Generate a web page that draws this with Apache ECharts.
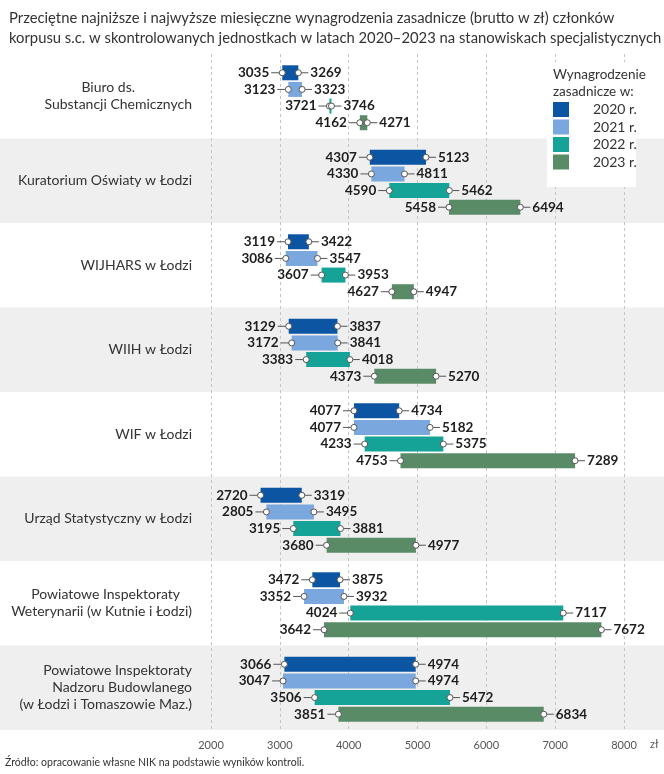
<!DOCTYPE html>
<html>
<head>
<meta charset="utf-8">
<script src="https://cdn.jsdelivr.net/npm/echarts@6/dist/echarts.min.js"></script>
<style>html,body{margin:0;padding:0;background:#fff}#c{width:664px;height:774px}</style>
</head>
<body>
<div id="c"></div>
<script>
const categories = [
  'Biuro ds.\nSubstancji Chemicznych',
  'Kuratorium Oświaty w Łodzi',
  'WIJHARS w Łodzi',
  'WIIH w Łodzi',
  'WIF w Łodzi',
  'Urząd Statystyczny w Łodzi',
  'Powiatowe Inspektoraty\nWeterynarii (w Kutnie i Łodzi)',
  'Powiatowe Inspektoraty\nNadzoru Budowlanego\n(w Łodzi i Tomaszowie Maz.)'
];
const years = ['2020 r.', '2021 r.', '2022 r.', '2023 r.'];
const min2020 = [3035, 4307, 3119, 3129, 4077, 2720, 3472, 3066];
const max2020 = [3269, 5123, 3422, 3837, 4734, 3319, 3875, 4974];
const min2021 = [3123, 4330, 3086, 3172, 4077, 2805, 3352, 3047];
const max2021 = [3323, 4811, 3547, 3841, 5182, 3495, 3932, 4974];
const min2022 = [3721, 4590, 3607, 3383, 4233, 3195, 4024, 3506];
const max2022 = [3746, 5462, 3953, 4018, 5375, 3881, 7117, 5472];
const min2023 = [4162, 5458, 4627, 4373, 4753, 3680, 3642, 3851];
const max2023 = [4271, 6494, 4947, 5270, 7289, 4977, 7672, 6834];
const xMin = 2000, xMax = 8000, xStep = 1000;
const titleText = 'Przeciętne najniższe i najwyższe miesięczne wynagrodzenia zasadnicze (brutto w zł) członków\nkorpusu s.c. w skontrolowanych jednostkach w latach 2020–2023 na stanowiskach specjalistycznych';
const legendTitle = 'Wynagrodzenie\nzasadnicze w:';
const sourceText = 'Źródło: opracowanie własne NIK na podstawie wyników kontroli.';
const unitText = 'zł';

const mins = [min2020, min2021, min2022, min2023];
const maxs = [max2020, max2021, max2022, max2023];
const colors = ['#0c55a3', '#7aa8de', '#15a297', '#5a8b67'];
const FONT = 'Lato';

function makeRender(j) {
  return function (params, api) {
    const ci = api.value(0);
    const p0 = api.coord([api.value(1), ci]);
    const p1 = api.coord([api.value(2), ci]);
    const band = api.size([0, 1])[1];
    const pitch = band * 0.197;
    const cy = p0[1] + (j - 1.5) * pitch + 1.5;
    const w = Math.max(p1[0] - p0[0], 2);
    const x0 = p0[0], x1 = p0[0] + w;
    const lineStyle = { stroke: '#555', lineWidth: 1 };
    const circStyle = { fill: '#fff', stroke: '#555', lineWidth: 1 };
    return {
      type: 'group',
      children: [
        { type: 'rect', shape: { x: x0, y: cy - 7.5, width: w, height: 15 }, style: { fill: colors[j] } },
        { type: 'line', shape: { x1: x0 - 11, y1: cy, x2: x0, y2: cy }, style: lineStyle },
        { type: 'line', shape: { x1: x1, y1: cy, x2: x1 + 10, y2: cy }, style: lineStyle },
        { type: 'circle', shape: { cx: x0, cy: cy, r: 3 }, style: circStyle },
        { type: 'circle', shape: { cx: x1, cy: cy, r: 3 }, style: circStyle },
        { type: 'text', style: { text: String(api.value(1)), x: x0 - 13, y: cy, align: 'right', verticalAlign: 'middle', font: 'bold 13.5px ' + FONT, fill: '#1e1e1e' } },
        { type: 'text', style: { text: String(api.value(2)), x: x1 + 12, y: cy, align: 'left', verticalAlign: 'middle', font: 'bold 13.5px ' + FONT, fill: '#1e1e1e' } }
      ]
    };
  };
}

const series = [{
  type: 'custom',
  name: 'bands',
  z: -1,
  silent: true,
  encode: { x: 0, y: 1 },
  data: categories.map((c, i) => [xMin, i]),
  renderItem: function (params, api) {
    const idx = api.value(1);
    if (idx % 2 === 0) return null;
    const p = api.coord([api.value(0), idx]);
    const band = api.size([0, 1])[1];
    return { type: 'rect', shape: { x: 0, y: p[1] - band / 2, width: api.getWidth(), height: band }, style: { fill: '#efefef' } };
  }
}];
years.forEach((y, j) => {
  series.push({
    type: 'custom',
    name: y,
    itemStyle: { color: colors[j] },
    encode: { x: [1, 2], y: 0 },
    data: categories.map((c, i) => [i, mins[j][i], maxs[j][i]]),
    renderItem: makeRender(j)
  });
});

const padMap = { 0: [57, 0], 6: [12, 0] };

const chart = echarts.init(document.getElementById('c'), null, { renderer: 'canvas' });
chart.setOption({
  animation: false,
  textStyle: { fontFamily: FONT },
  title: {
    text: titleText, left: 4, top: 3,
    textStyle: { fontSize: 14.8, fontWeight: 'normal', color: '#333', lineHeight: 20, fontFamily: FONT }
  },
  grid: { left: 211, right: 40, top: 54, bottom: 44 },
  xAxis: {
    type: 'value', min: xMin, max: xMax, interval: xStep,
    axisLine: { show: false }, axisTick: { show: false },
    axisLabel: { fontSize: 11, color: '#555', margin: 10, formatter: v => String(v) },
    splitLine: { show: true, lineStyle: { type: [3, 3], color: '#c4c4c4', width: 1 } }
  },
  yAxis: {
    type: 'category', inverse: true, data: categories,
    axisLine: { show: false }, axisTick: { show: false }, splitLine: { show: false },
    axisLabel: {
      align: 'right', margin: 19, fontSize: 14, lineHeight: 17, color: '#333',
      formatter: function (v, i) {
        const pads = padMap[i] || [];
        return v.split('\n').map((ln, k) => pads[k] ? '{p' + pads[k] + '|' + ln + '}' : '{a|' + ln + '}').join('\n');
      },
      rich: {
        a: { fontSize: 14, lineHeight: 17, color: '#333' },
        p57: { fontSize: 14, lineHeight: 17, color: '#333', padding: [0, 57, 0, 0] },
        p12: { fontSize: 14, lineHeight: 17, color: '#333', padding: [0, 12, 0, 0] }
      }
    }
  },
  legend: {
    data: years, orient: 'vertical', left: 553, top: 102, padding: 0,
    itemWidth: 16, itemHeight: 15, itemGap: 2.5, icon: 'rect', z: 6,
    textStyle: { fontSize: 14, color: '#333', padding: [0, 0, 0, 19] }
  },
  graphic: [
    { type: 'rect', left: 547, top: 62, z: 5, shape: { width: 89, height: 125 }, style: { fill: '#fff' } },
    { type: 'text', left: 553, top: 66, z: 6, style: { text: legendTitle, font: '13.5px ' + FONT, lineHeight: 17, fill: '#333' } },
    { type: 'text', left: 650, top: 739, z: 6, style: { text: unitText, font: '11px ' + FONT, fill: '#555' } },
    { type: 'text', left: 5, top: 757, z: 6, style: { text: sourceText, font: '10.5px ' + FONT, fill: '#333' } }
  ],
  series: series
});
</script>
</body>
</html>
